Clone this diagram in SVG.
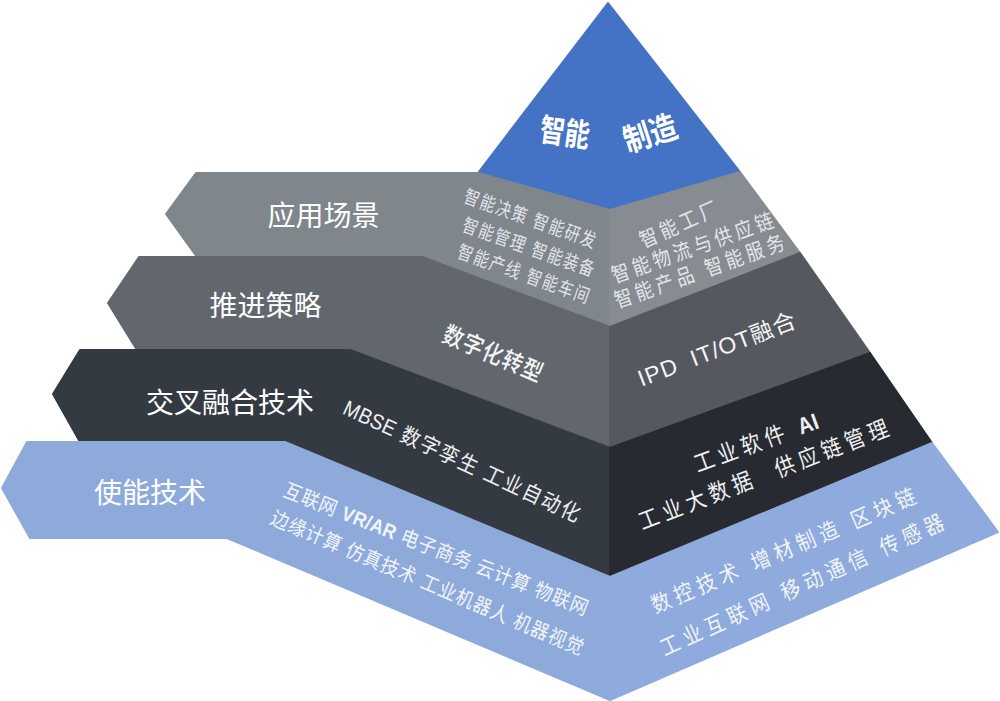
<svg xmlns="http://www.w3.org/2000/svg" width="1000" height="701" viewBox="0 0 1000 701">
<style>
text { font-family: "Liberation Sans", "Noto Sans CJK SC", sans-serif; text-anchor: middle; }
.lbl { font-size: 28px; fill: #ffffff; }
.top { font-size: 32px; font-weight: bold; fill: #ffffff; }
.gl { font-size: 19px; letter-spacing: 2px; fill: #e1e4e7; }
.gr { font-size: 21px; letter-spacing: 4.6px; fill: #e3e6e9; }
.dk { font-size: 24px; font-weight: 500; letter-spacing: 1.2px; fill: #f4f5f6; }
.ipd { font-size: 23px; letter-spacing: 1px; fill: #f4f5f6; }
.bk { font-size: 21.5px; letter-spacing: 2px; fill: #eef0f2; }
.bkr { font-size: 23px; letter-spacing: 5.4px; fill: #eef0f2; }
.bl { font-size: 20px; letter-spacing: 1px; fill: #f1f4fb; }
.blr { font-size: 22px; letter-spacing: 5.8px; fill: #f1f4fb; }
.b { font-weight: bold; }
.tight { letter-spacing: 0.3px; }
.face { stroke-linejoin: round; stroke-width: 2; }
</style>
<rect width="1000" height="701" fill="#ffffff"/>

<g id="tier-apex">
  <polygon class="face" points="608,3 478,173 610,210 740,172" fill="#4472c4" stroke="#4472c4"/>
  <text class="top" transform="translate(565,132) rotate(8) scale(0.78,1)" y="12">智能</text>
  <text class="top" transform="translate(650,133) rotate(-18) scale(0.85,1)" y="12">制造</text>
</g>

<g id="tier-scenario">
  <path class="face" d="M196,173 L478,173 L610,210 L610,327 L422,257 L197,257 L166,214 Z" fill="#7f868c" stroke="#7f868c"/>
  <polygon class="face" points="610,210 740,172 800,253 610,327" fill="#868c92" stroke="#868c92"/>
  <text class="lbl" x="323.5" y="225.6">应用场景</text>
  <text class="gl" transform="translate(531,218.3) rotate(19.5) scale(0.8,1)" y="7.2">智能决策 智能研发</text>
  <text class="gl" transform="translate(529.5,247) rotate(19.5) scale(0.8,1)" y="7.2">智能管理 智能装备</text>
  <text class="gl" transform="translate(524.5,273.7) rotate(19.5) scale(0.8,1)" y="7.2">智能产线 智能车间</text>
  <text class="gr" transform="translate(680,223.3) rotate(-24) scale(0.85,1)" y="8">智能工厂</text>
  <text class="gr" transform="translate(694,246.7) rotate(-19.5) scale(0.85,1)" y="8">智能物流与供应链</text>
  <text class="gr" transform="translate(701,270.3) rotate(-19.5) scale(0.85,1)" y="8">智能产品 智能服务</text>
</g>

<g id="tier-strategy">
  <path class="face" d="M139,257 L422,257 L610,327 L610,448 L350,350 L137,350 L108,303 Z" fill="#62676d" stroke="#62676d"/>
  <polygon class="face" points="610,327 800,253 870,353 610,448" fill="#55595f" stroke="#55595f"/>
  <text class="lbl" x="265.5" y="316.1">推进策略</text>
  <text class="dk" transform="translate(493.5,353.3) rotate(23) scale(0.85,1)" y="9">数字化转型</text>
  <text class="ipd" transform="translate(717,349) rotate(-21)" y="8.3" xml:space="preserve">IPD  IT/OT融合</text>
</g>

<g id="tier-crosstech">
  <path class="face" d="M80,350 L350,350 L610,448 L610,577 L285,442 L80,442 L53,394 Z" fill="#343a42" stroke="#343a42"/>
  <polygon class="face" points="610,448 870,353 932,443 610,577" fill="#272b31" stroke="#272b31"/>
  <text class="lbl" x="230" y="413.1">交叉融合技术</text>
  <text class="bk" transform="translate(463,461) rotate(25) scale(0.9,1)" y="8"><tspan class="tight">MBSE</tspan> 数字孪生 工业自动化</text>
  <text class="bkr" transform="translate(756,442) rotate(-20) scale(0.88,1)" y="8.7">工业软件 <tspan class="b tight">AI</tspan></text>
  <text class="bkr" transform="translate(765.5,473.3) rotate(-21) scale(0.88,1)" y="8.7" xml:space="preserve">工业大数据  供应链管理</text>
</g>

<g id="tier-enabling">
  <path class="face" d="M27,442 L285,442 L610,577 L610,700 L227,538 L30,538 L2,488 Z" fill="#8eaadb" stroke="#8eaadb"/>
  <polygon class="face" points="610,577 932,443 998,532 610,700" fill="#8faadc" stroke="#8faadc"/>
  <text class="lbl" x="150" y="503.1">使能技术</text>
  <text class="bl" transform="translate(436.5,548.7) rotate(21.6) scale(0.9,1)" y="7.6">互联网 <tspan class="b tight">VR/AR</tspan> 电子商务 云计算 物联网</text>
  <text class="bl" transform="translate(428,582.5) rotate(23) scale(0.9,1)" y="7.6">边缘计算 仿真技术 工业机器人 机器视觉</text>
  <text class="blr" transform="translate(785.5,549.2) rotate(-23) scale(0.88,1)" y="8.4">数控技术 增材制造 区块链</text>
  <text class="blr" transform="translate(804,583.3) rotate(-24.5) scale(0.88,1)" y="8.4">工业互联网 移动通信 传感器</text>
</g>

<g id="connectors"></g>
</svg>
